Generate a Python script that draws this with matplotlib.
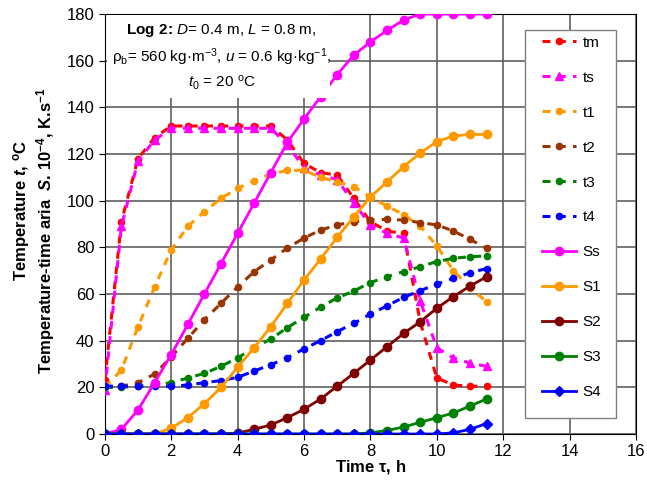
# Log 2 - temperaturas y areas temperatura-tiempo
import numpy as np
import matplotlib.pyplot as plt
from matplotlib.patches import Rectangle

plt.rcParams['font.family'] = ['Liberation Sans', 'DejaVu Sans']
plt.rcParams['mathtext.fontset'] = 'custom'
plt.rcParams['mathtext.rm'] = 'Liberation Sans'
plt.rcParams['mathtext.it'] = 'Liberation Sans:italic'
plt.rcParams['mathtext.bf'] = 'Liberation Sans:bold'
plt.rcParams['mathtext.bfit'] = 'Liberation Sans:bold:italic'

# tiempo, h
tau = np.arange(0, 12, 0.5)

# temperaturas, C
tm = [23, 91, 118, 127, 132, 132, 132, 132, 132, 132, 132, 126,
      116, 112, 111, 101, 91, 87, 86, 48, 24, 21, 20.5, 20.5]
ts = [19, 89, 117, 126, 131, 131, 131, 131, 131, 131, 131, 124,
      114, 111, 109, 99, 89.6, 86, 84, 57, 37, 32.6, 30.4, 29]
t1 = [20, 27.4, 46, 63, 79, 89, 95.3, 101, 105.3, 108.6, 111.4, 113,
      113, 110, 108, 106, 101.5, 97.7, 94, 89, 80.6, 70, 62.6, 56.7]
t2 = [20, 20.5, 22, 25.7, 33, 41, 49, 56, 63, 69.6, 74.6, 79.7,
      84, 87.4, 89.6, 91, 91.7, 92, 91.7, 90.6, 89.6, 87, 83.4, 79.6]
t3 = [20, 20, 20.5, 21, 22, 24, 26, 29, 32.6, 37, 40.7, 45.6,
      50, 54.4, 58.3, 61.3, 64.9, 67.4, 69.6, 71.7, 73.9, 75.3, 76, 76.3]
t4 = [20.5, 20.5, 20.5, 20.5, 20.5, 21, 22, 22.9, 24.3, 27, 29.7, 32.7,
      36.5, 40, 43.9, 47.4, 51.4, 54.9, 58.6, 61.4, 64.3, 66.7, 69.1, 70.9]

# areas temperatura-tiempo S.10^-4
Ss = [0, 2, 10.3, 22, 34, 47, 60, 73, 86, 99, 112, 125,
      135, 144.5, 154, 162.4, 168, 173, 177.4, 180, 180, 180, 180, 180]
S1 = [0, 0, 0, 0, 2.5, 7, 13, 20, 28.6, 37, 46, 56,
      66, 75, 84.4, 93, 101.6, 108, 114.6, 120.4, 125.3, 127.7, 128.4, 128.4]
S2 = [0, 0, 0, 0, 0, 0, 0, 0, 0.4, 2, 3.9, 7,
      10.6, 15, 20.5, 26, 31.7, 37.4, 43.1, 48.1, 53.9, 58.9, 63.4, 67.4]
S3 = [0, 0, 0, 0, 0, 0, 0, 0, 0, 0, 0, 0,
      0, 0, 0, 0, 0.5, 1.5, 3, 5, 7, 9, 12, 15]
S4 = [0, 0, 0, 0, 0, 0, 0, 0, 0, 0, 0, 0,
      0, 0, 0, 0, 0, 0, 0, 0, 0, 0.5, 2, 4.5]

fig = plt.figure(figsize=(6.47, 5), dpi=100)
ax = fig.add_axes([0.162, 0.132, 0.821, 0.840])

dash = (2.6, 2.4)
ax.plot(tau, tm, color='#FF0000', lw=2.2, dashes=dash, marker='o', ms=4.5, label='tm', zorder=3)
ax.plot(tau, ts, color='#FF00FF', lw=2.2, dashes=dash, marker='^', ms=5.5, label='ts', zorder=3)
ax.plot(tau, t1, color='#FF9900', lw=2.2, dashes=dash, marker='o', ms=4.5, label='t1', zorder=3)
ax.plot(tau, t2, color='#993300', lw=2.2, dashes=dash, marker='o', ms=4.5, label='t2', zorder=3)
ax.plot(tau, t3, color='#008000', lw=2.2, dashes=dash, marker='o', ms=4.5, label='t3', zorder=3)
ax.plot(tau, t4, color='#0000FF', lw=2.2, dashes=dash, marker='o', ms=4.5, label='t4', zorder=3)
ax.plot(tau, Ss, color='#FF00FF', lw=2, marker='o', ms=6, label='Ss', zorder=4)
ax.plot(tau, S1, color='#FF9900', lw=2, marker='o', ms=6, label='S1', zorder=4)
ax.plot(tau, S2, color='#800000', lw=2, marker='o', ms=6, label='S2', zorder=4)
ax.plot(tau, S3, color='#008000', lw=2, marker='o', ms=6, label='S3', zorder=4)
ax.plot(tau, S4, color='#0000FF', lw=2, marker='D', ms=5, label='S4', zorder=4)

ax.set_xlim(0, 16)
ax.set_ylim(0, 180)
ax.set_xticks(np.arange(0, 17, 2))
ax.set_yticks(np.arange(0, 181, 20))
ax.tick_params(labelsize=12, direction='out', length=4)
ax.grid(True, color='#606060', lw=1.2)
ax.set_axisbelow(True)

ax.set_xlabel(r'Time $\mathbf{\tau}$, h', fontsize=12, fontweight='bold', labelpad=-1)
fig.text(0.034, 0.58, r'Temperature $\mathbfit{t}$, $^\mathbf{o}$C', rotation=90,
         fontsize=12, fontweight='bold', ha='center', va='center')
fig.text(0.07, 0.538, r'Temperature-time aria  $\mathbfit{S}$. 10$^{\mathbf{-4}}$, K.s$^{\mathbf{-1}}$',
         rotation=90, fontsize=12, fontweight='bold', ha='center', va='center')

# caja blanca del texto
ax.add_patch(Rectangle((0.06, 144), 6.72, 35.7, facecolor='white',
                       edgecolor='none', zorder=5))
ax.text(3.52, 161.5, r'$\mathbf{Log\ 2\!:\!}$ $D$= 0.4 m, $L$ = 0.8 m,' '\n'
        r'ρ$_\mathrm{b}$= 560 kg·m$^{-3}$, $u$ = 0.6 kg·kg$^{-1}$,' '\n'
        r'$t_0$ = 20 $^\mathrm{o}$C',
        ha='center', va='center', fontsize=11, linespacing=1.45, zorder=6)

# caja de la leyenda
ax.add_patch(Rectangle((0.791, 0.038), 0.171, 0.924, transform=ax.transAxes,
                       facecolor='white', edgecolor='#808080', lw=1, zorder=5))
leg = ax.legend(loc='upper left', bbox_to_anchor=(0.823, 0.948), fontsize=11,
                frameon=False, labelspacing=1.37, handlelength=2.25,
                handletextpad=0.4, numpoints=1, borderpad=0, borderaxespad=0)
leg.set_zorder(6)

plt.savefig('out.png', dpi=100)
